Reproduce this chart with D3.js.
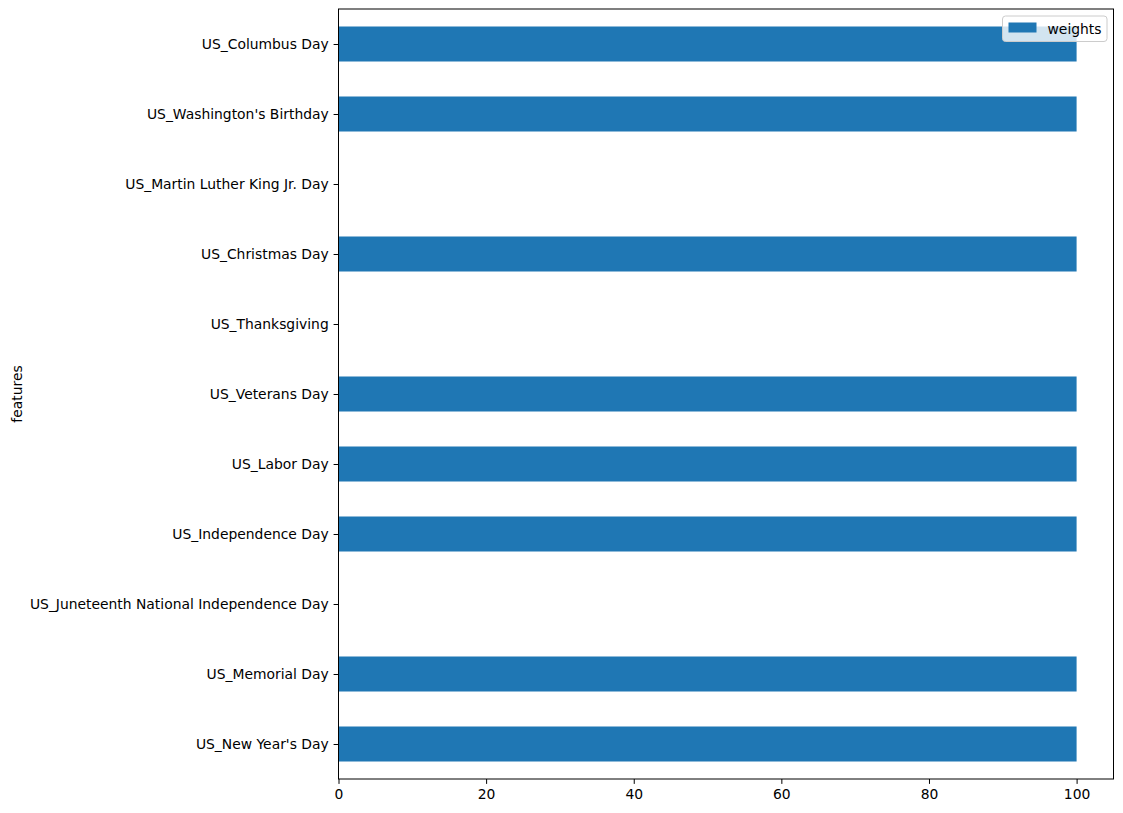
<!DOCTYPE html>
<html>
<head>
<meta charset="utf-8">
<script src="https://cdn.jsdelivr.net/npm/d3@7"></script>
<style>
  body { margin: 0; background: #fff; }
  svg { font-family: "DejaVu Sans", sans-serif; }
</style>
</head>
<body>
<svg id="chart"></svg>
<script>
var width = 1123, height = 813;
var margin = {top: 9, right: 9.5, bottom: 34, left: 338.5};
var fontSize = "13.89px";

// data, bottom to top as in the plot
var features = ["US_New Year's Day", "US_Memorial Day", "US_Juneteenth National Independence Day",
    "US_Independence Day", "US_Labor Day", "US_Veterans Day", "US_Thanksgiving",
    "US_Christmas Day", "US_Martin Luther King Jr. Day", "US_Washington's Birthday", "US_Columbus Day"];
var weights = [100, 100, 0, 100, 100, 100, 0, 100, 0, 100, 100];
var xTicks = [0, 20, 40, 60, 80, 100];

var innerW = width - margin.left - margin.right;
var innerH = height - margin.top - margin.bottom;

var svg = d3.select("#chart")
    .attr("width", width)
    .attr("height", height)
    .append("g")
    .attr("transform", "translate(" + margin.left + "," + margin.top + ")");

var x = d3.scaleLinear().domain([0, 105]).range([0, innerW]);
var y = d3.scaleLinear().domain([-0.5, features.length - 0.5]).range([innerH, 0]);

// bars (height 0.5 like pandas barh)
svg.selectAll("rect.bar")
    .data(weights)
    .enter().append("rect")
    .attr("class", "bar")
    .attr("x", x(0))
    .attr("y", function (d, i) { return y(i + 0.25); })
    .attr("width", function (d) { return x(d) - x(0); })
    .attr("height", y(0) - y(0.5))
    .attr("fill", "#1f77b4");

var xAxis = svg.append("g")
    .attr("transform", "translate(0," + innerH + ")")
    .call(d3.axisBottom(x).tickValues(xTicks).tickSize(4.9).tickPadding(4.9));

var yAxis = svg.append("g")
    .call(d3.axisLeft(y).tickValues(d3.range(features.length))
        .tickFormat(function (i) { return features[i]; })
        .tickSize(4.9).tickPadding(4.9));

[xAxis, yAxis].forEach(function (a) {
    a.select(".domain").remove();
    a.selectAll("text").attr("font-size", fontSize).attr("fill", "#000")
        .attr("font-family", "DejaVu Sans, sans-serif");
    a.selectAll("line").attr("stroke", "#000").attr("stroke-width", 1);
});

// frame
svg.append("rect")
    .attr("width", innerW)
    .attr("height", innerH)
    .attr("fill", "none")
    .attr("stroke", "#000")
    .attr("stroke-width", 1);

// y label
svg.append("text")
    .attr("transform", "translate(" + (-317) + "," + (innerH / 2) + ") rotate(-90)")
    .attr("text-anchor", "middle")
    .attr("font-size", fontSize)
    .text("features");

// legend
var legend = svg.append("g")
    .attr("transform", "translate(" + (innerW - 111) + ",7)");
legend.append("rect")
    .attr("width", 104.5).attr("height", 25.5)
    .attr("rx", 3).attr("ry", 3)
    .attr("fill", "#fff").attr("fill-opacity", 0.8)
    .attr("stroke", "#cccccc").attr("stroke-width", 1);
legend.append("rect")
    .attr("x", 6).attr("y", 6.5)
    .attr("width", 28).attr("height", 10)
    .attr("fill", "#1f77b4");
legend.append("text")
    .attr("x", 45).attr("y", 17.5)
    .attr("font-size", fontSize)
    .text("weights");
</script>
</body>
</html>
